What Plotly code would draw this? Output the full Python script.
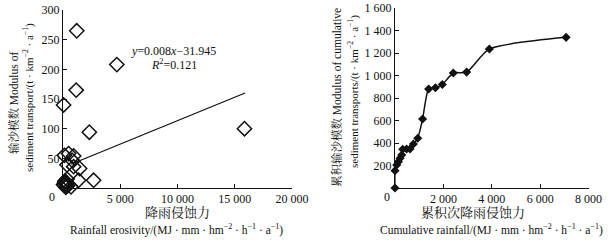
import plotly.graph_objects as go

# ---- Left panel data: rainfall erosivity vs sediment transport modulus ----
erosivity = [1200, 4700, 1150, 50, 2300, 15850, 115, 490, 930, 350, 785, 930,
             1450, 350, 1360, 2670, 700, 100, 200, 300, 150, 250, 50, 400, 180, 320]
sediment = [265, 208, 165, 140, 94, 100, 55, 58, 54, 39, 47, 36,
            33, 15, 13, 13, 2, 5, 8, 3, 10, 1, 6, 4, 12, 7]
trend_x = [700, 15900]
trend_slope = 0.0079
trend_intercept = 34.5
trend_y = [trend_slope * v + trend_intercept for v in trend_x]

left_xticks = [0, 5000, 10000, 15000, 20000]
left_xtext = ["", "5 000", "10 000", "15 000", "20 000"]
left_yticks = [0, 50, 100, 150, 200, 250, 300]
left_ytext = ["", "50", "100", "150", "200", "250", "300"]

# ---- Right panel data: cumulative rainfall erosivity vs cumulative sediment ----
cum_rain = [0, 0, 70, 140, 210, 280, 320, 480, 620, 760, 940, 1140, 1390,
            1670, 1955, 2410, 2960, 3900, 7070]
cum_sed = [0, 154, 204, 234, 264, 293, 344, 347, 347, 391, 442, 613, 880,
           891, 920, 1022, 1030, 1236, 1339]

right_xticks = [0, 2000, 4000, 6000, 8000]
right_xtext = ["", "2 000", "4 000", "6 000", "8 000"]
right_yticks = [0, 200, 400, 600, 800, 1000, 1200, 1400, 1600]
right_ytext = ["", "200", "400", "600", "800", "1 000", "1 200", "1 400", "1 600"]

W, H = 608, 244
FONT = "Liberation Serif, Noto Serif CJK SC, Noto Sans CJK SC, serif"
INK = "#111111"

fig = go.Figure()
fig.add_trace(go.Scatter(
    x=erosivity, y=sediment, mode="markers",
    marker=dict(symbol="diamond-open", size=11, color=INK, line=dict(width=1.5, color=INK)),
    xaxis="x", yaxis="y", cliponaxis=False, showlegend=False))
fig.add_trace(go.Scatter(
    x=trend_x, y=trend_y, mode="lines", line=dict(color=INK, width=1.3),
    xaxis="x", yaxis="y", showlegend=False))
fig.add_trace(go.Scatter(
    x=cum_rain, y=cum_sed, mode="lines+markers",
    line=dict(color=INK, width=1.5, shape="spline", smoothing=0.6),
    marker=dict(symbol="diamond", size=7, color=INK),
    xaxis="x2", yaxis="y2", cliponaxis=False, showlegend=False))

axis_common = dict(showline=True, linecolor=INK, linewidth=1, ticks="inside",
                   ticklen=4, tickcolor=INK, showgrid=False, zeroline=False,
                   automargin=False,
                   tickfont=dict(family=FONT, size=12, color=INK))

def px(v):
    return v / W

def py(v):
    return 1 - v / H

fig.update_layout(
    width=W, height=H, margin=dict(l=0, r=0, t=0, b=0, autoexpand=False),
    paper_bgcolor="white", plot_bgcolor="white",
    font=dict(family=FONT, color=INK),
    xaxis=dict(domain=[px(63), px(292)], range=[0, 20000], tickvals=left_xticks,
               ticktext=left_xtext, anchor="y", **axis_common),
    yaxis=dict(domain=[py(188), py(10)], range=[0, 300], tickvals=left_yticks,
               ticktext=left_ytext, anchor="x", **axis_common),
    xaxis2=dict(domain=[px(395), px(588.6)], range=[0, 8000], tickvals=right_xticks,
                ticktext=right_xtext, anchor="y2", **axis_common),
    yaxis2=dict(domain=[py(188), py(8)], range=[0, 1600], tickvals=right_yticks,
                ticktext=right_ytext, anchor="x2", **axis_common),
)

def ann(text, x, y, size, angle=0):
    fig.add_annotation(text=text, x=px(x), y=py(y), xref="paper", yref="paper",
                       showarrow=False, textangle=angle, xanchor="center", yanchor="middle",
                       font=dict(family=FONT, size=size, color=INK))

unit = "(MJ · mm · hm<sup>−2</sup> · h<sup>−1</sup> · a<sup>−1</sup>)"
# left panel texts
ann("0", 52, 197, 12)
ann("降雨侵蚀力", 177, 212, 13)
ann("Rainfall erosivity/" + unit, 176, 229, 11.5)
ann("输沙模数 Modulus of", 13, 103, 11.5, -90)
ann("sediment transport/(t · km<sup>−2</sup> · a<sup>−1</sup>)", 28, 98, 11, -90)
ann("<i>y</i>=0.008<i>x</i>−31.945", 174, 51, 12)
ann("<i>R</i><sup>2</sup>=0.121", 174, 64, 12)
# right panel texts
ann("0", 387, 197, 12)
ann("累积次降雨侵蚀力", 473, 212, 13)
ann("Cumulative rainfall/" + unit, 491, 229, 11.5)
ann("累积输沙模数 Modulus of cumulative", 336, 98, 11.5, -90)
ann("sediment transports/(t · km<sup>−2</sup> · a<sup>−1</sup>)", 353, 92, 11, -90)

fig.write_html("out.html",
               config={"displayModeBar": False, "staticPlot": True},
               post_script="document.body.style.margin='0';document.body.style.overflow='hidden';")
